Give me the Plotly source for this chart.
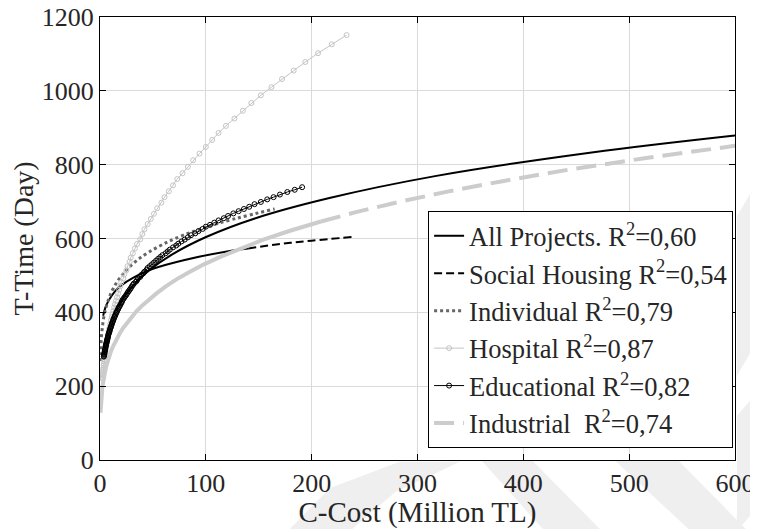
import plotly.graph_objects as go

# Values (C = cost in million TL, T = time in days)
all_cost = [3.18, 4.66, 6.84, 10, 14.7, 21.6, 31.7, 46.5, 68.3, 100.2, 147, 215.8, 316.6, 464.6, 600]
all_time = [293, 317, 344, 372, 404, 438, 474, 514, 557, 604, 655, 709, 769, 833, 879]

social_cost = [3, 5, 8, 13, 20, 32, 50, 80, 120, 140, 170, 200, 238]
social_time = [391, 412, 431, 453, 473, 495, 518, 542, 565, 573, 585, 594, 604]

indiv_cost = [0.3, 0.5, 1, 2, 4, 7, 12, 20, 35, 60, 100, 165]
indiv_time = [268, 289, 320, 354, 393, 426, 462, 498, 541, 585, 631, 680]

hosp_cost = [2.3, 2.4, 2.6, 2.8, 2.9, 3.1, 3.3, 3.5, 3.7, 4.0, 4.2, 4.5, 4.8, 5.1, 5.4, 5.7, 6.1, 6.4,
             6.9, 7.3, 7.7, 8.2, 8.7, 9.3, 9.9, 10.5, 11.1, 11.8, 12.6, 13.4, 14.2, 15.1, 16.1, 17.1,
             18.1, 19.3, 20, 22, 23, 25, 26, 28, 29, 31, 33, 35, 38, 40, 42, 45, 48, 51, 54, 58, 61,
             65, 69, 73, 78, 83, 88, 94, 100, 106, 112, 119, 127, 135, 143, 152, 162, 172, 183, 194,
             206, 219, 233]
hosp_time = [220, 224, 229, 234, 240, 245, 250, 256, 261, 267, 273, 279, 285, 291, 298, 304, 311, 318,
             325, 332, 339, 347, 355, 362, 370, 379, 387, 395, 404, 413, 422, 431, 441, 451, 461, 471,
             481, 492, 503, 514, 525, 537, 548, 560, 573, 585, 598, 612, 625, 639, 653, 667, 682, 697,
             712, 728, 744, 761, 777, 794, 812, 830, 848, 867, 886, 905, 925, 946, 967, 988, 1010,
             1032, 1055, 1078, 1102, 1126, 1151]

edu_cost = [3.6, 3.8, 3.9, 4.1, 4.2, 4.4, 4.6, 4.7, 4.9, 5.1, 5.3, 5.5, 5.7, 5.9, 6.2, 6.4, 6.7, 6.9,
            7.2, 7.4, 7.7, 8.0, 8.3, 8.7, 9.0, 9.3, 9.7, 10.1, 10.5, 10.9, 11.3, 11.7, 12.2, 12.6, 13.1,
            13.6, 14.1, 14.7, 15.2, 15.8, 16.4, 17.1, 17.7, 18.4, 19.1, 19.9, 20.6, 21, 22, 23, 24, 25,
            26, 27, 28, 29, 30, 31, 32, 34, 35, 36, 38, 39, 41, 42, 44, 45, 47, 49, 51, 53, 55, 57, 59,
            62, 64, 66, 69, 72, 74, 77, 80, 83, 86, 90, 93, 97, 100, 104, 108, 112, 117, 121, 126, 131,
            136, 141, 146, 152, 158, 164, 170, 177, 184, 191]
edu_time = [280, 282, 285, 287, 290, 293, 296, 298, 301, 304, 307, 310, 312, 315, 318, 321, 324, 327,
            330, 333, 336, 340, 343, 346, 349, 352, 356, 359, 362, 366, 369, 373, 376, 380, 383, 387,
            390, 394, 398, 401, 405, 409, 413, 416, 420, 424, 428, 432, 436, 440, 444, 448, 453, 457,
            461, 465, 470, 474, 478, 483, 487, 492, 496, 501, 506, 510, 515, 520, 525, 530, 535, 540,
            545, 550, 555, 560, 565, 570, 576, 581, 586, 592, 597, 603, 609, 614, 620, 626, 632, 637,
            643, 649, 655, 661, 668, 674, 680, 686, 693, 699, 706, 712, 719, 726, 732, 739]

indus_cost = [0.43, 0.5, 0.58, 0.68, 0.79, 0.92, 1.06, 1.24, 1.44, 1.67, 1.95, 2.26, 2.63, 3.06, 3.56,
              4.14, 4.81, 5.59, 6.5, 7.56, 8.79, 10.2, 11.9, 13.8, 16.1, 18.7, 21.7, 25.3, 29.4, 34.2,
              39.7, 46.2, 53.7, 62.5, 72.6, 84.5, 98.2, 114.2, 132.8, 154.4, 179.5, 208.8, 242.7,
              282.3, 328.2, 381.6, 443.8, 516, 600]
indus_time = [128, 133, 138, 144, 150, 156, 162, 168, 175, 182, 190, 197, 205, 214, 222, 231, 240, 250,
              260, 271, 282, 293, 305, 317, 330, 343, 357, 371, 386, 402, 418, 435, 452, 471, 490, 509,
              530, 551, 573, 597, 621, 646, 672, 699, 727, 756, 787, 818, 851]

FONT = "Liberation Serif"
TXT = "#262626"


def split(xs, ys, cut):
    # dense low-cost part renders as solid in the original, dashes only show further out
    lo = [(x, y) for x, y in zip(xs, ys) if x <= cut]
    hi = [(x, y) for x, y in zip(xs, ys) if x >= cut]
    return [p[0] for p in lo], [p[1] for p in lo], [p[0] for p in hi], [p[1] for p in hi]


fig = go.Figure()

fig.add_trace(go.Scatter(x=all_cost, y=all_time, mode="lines", line=dict(color="black", width=2, shape="spline"),
                         name="All Projects. R<sup>2</sup>=0,60"))

sx0, sy0, sx1, sy1 = split(social_cost, social_time, 140)
fig.add_trace(go.Scatter(x=sx0, y=sy0, mode="lines", line=dict(color="black", width=2, shape="spline"),
                         legendgroup="soc", showlegend=False))
fig.add_trace(go.Scatter(x=sx1, y=sy1, mode="lines", line=dict(color="black", width=2, dash="8px,4px", shape="spline"),
                         legendgroup="soc", name="Social Housing R<sup>2</sup>=0,54"))

fig.add_trace(go.Scatter(x=indiv_cost, y=indiv_time, mode="lines",
                         line=dict(color="#666666", width=3, dash="dot", shape="spline"),
                         name="Individual R<sup>2</sup>=0,79"))

fig.add_trace(go.Scatter(x=hosp_cost, y=hosp_time, mode="lines+markers", line=dict(color="#c4c4c4", width=1),
                         marker=dict(symbol="circle-open", size=5, color="#c4c4c4", line=dict(width=1)),
                         name="Hospital R<sup>2</sup>=0,87"))

fig.add_trace(go.Scatter(x=edu_cost, y=edu_time, mode="lines+markers", line=dict(color="black", width=1),
                         marker=dict(symbol="circle-open", size=5, color="black", line=dict(width=1)),
                         name="Educational R<sup>2</sup>=0,82"))

ix0, iy0, ix1, iy1 = split(indus_cost, indus_time, 208.8)
fig.add_trace(go.Scatter(x=ix0, y=iy0, mode="lines", line=dict(color="#cccccc", width=4),
                         legendgroup="ind", showlegend=False))
fig.add_trace(go.Scatter(x=ix1, y=iy1, mode="lines", line=dict(color="#cccccc", width=4, dash="20px,9px"),
                         legendgroup="ind", name="Industrial\u00a0 R<sup>2</sup>=0,74"))

# faint publisher watermark bands outside the axes (paper coordinates)
wm = [
    "M 0.296,-0.16 L 0.362,-0.063 L 0.472,-0.004 L 0.567,-0.004 L 0.465,-0.072 L 0.394,-0.16 Z",
    "M 0.60,0 L 0.68,0 L 0.79,-0.16 L 0.70,-0.16 Z",
    "M 0.81,0 L 0.91,0 L 1.02,-0.16 L 0.93,-0.16 Z",
    "M 1.003,0.55 L 1.04,0.64 L 1.04,0.28 L 1.003,0.19 Z",
    "M 1.003,0.10 L 1.04,0.16 L 1.04,-0.10 L 1.003,-0.16 Z",
]
shapes = [dict(type="path", path=p, xref="paper", yref="paper", fillcolor="#efefef",
               line=dict(width=0), layer="below") for p in wm]

axis = dict(showline=True, linecolor="black", linewidth=1, mirror="ticks", ticks="inside", ticklen=6,
            tickcolor="black", showgrid=True, gridcolor="#dadada", gridwidth=1, zeroline=False,
            automargin=False, ticklabeloverflow="allow", tickfont=dict(size=26, family=FONT, color=TXT))

# page body adds 8px offset, so the figure is 8px smaller than the window
fig.update_layout(
    width=750, height=521,
    margin=dict(l=92, r=23, t=9, b=69),
    plot_bgcolor="white", paper_bgcolor="white",
    font=dict(family=FONT, size=26, color=TXT),
    shapes=shapes,
    xaxis=dict(axis, range=[0, 600], dtick=100,
               title=dict(text="C-Cost (Million TL)", standoff=0, font=dict(size=29, family=FONT, color=TXT))),
    yaxis=dict(axis, range=[0, 1200], dtick=200,
               title=dict(text="T-Time (Day)", standoff=4, font=dict(size=28, family=FONT, color=TXT))),
    legend=dict(x=0.997, y=0.027, xanchor="right", yanchor="bottom", bgcolor="white",
                bordercolor="black", borderwidth=1, font=dict(size=26.5, family=FONT, color=TXT),
                tracegroupgap=0, itemwidth=30),
)

fig.write_html("out.html")
